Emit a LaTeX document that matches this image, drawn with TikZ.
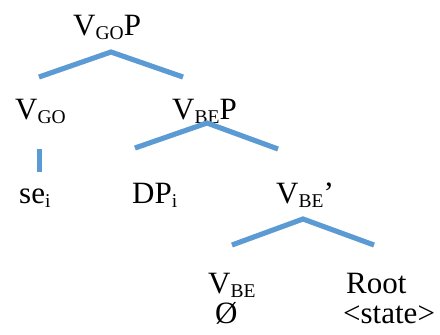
\documentclass[tikz,border=0pt]{standalone}
\usepackage{fontspec}
\setmainfont{Liberation Serif}
\definecolor{branch}{HTML}{5B9BD5}
\newcommand{\subtxt}[1]{\raisebox{-4pt}{\fontsize{19.5}{19.5}\selectfont #1}}
\begin{document}
\begin{tikzpicture}[x=1pt,y=-1pt,
  lbl/.style={anchor=base west,inner sep=0pt,font=\fontsize{31}{31}\selectfont},
  br/.style={draw=branch,line width=5pt},
  shd/.style={draw=black!18,line width=5pt,yshift=-2pt}]
\useasboundingbox (0,0) rectangle (440,335);
% labels
\node[lbl] (vgop) at (73,35) {V\subtxt{GO}P};
\node[lbl] (vgo) at (15,119) {V\subtxt{GO}};
\node[lbl] (vbep) at (172,119) {V\subtxt{BE}P};
\node[lbl] (se) at (19,203) {se\subtxt{i}};
\node[lbl] (dp) at (132,203) {DP\subtxt{i}};
\node[lbl] (vbebar) at (276,203) {V\subtxt{BE}’};
\node[lbl] (vbe) at (208,293) {V\subtxt{BE}};
\node[lbl] (root) at (346,293) {Root};
\node[lbl] (empty) at (215,323) {Ø};
\node[lbl] (state) at (343,323) {<state>};
% branch points
\coordinate (t1) at (111,52);
\coordinate (t1l) at (39,77);
\coordinate (t1r) at (183,77);
\coordinate (v1) at (39,149);
\coordinate (v1b) at (39,172);
\coordinate (t2) at (207,123);
\coordinate (t2l) at (135,148);
\coordinate (t2r) at (278,149);
\coordinate (t3) at (303,219);
\coordinate (t3l) at (232,245);
\coordinate (t3r) at (374,245);
\draw[shd] (t1l) -- (t1) -- (t1r);
\draw[shd] (t2l) -- (t2) -- (t2r);
\draw[shd] (t3l) -- (t3) -- (t3r);
\draw[br] (t1l) -- (t1) -- (t1r);
\draw[br] (v1) -- (v1b);
\draw[br] (t2l) -- (t2) -- (t2r);
\draw[br] (t3l) -- (t3) -- (t3r);
\end{tikzpicture}
\end{document}
